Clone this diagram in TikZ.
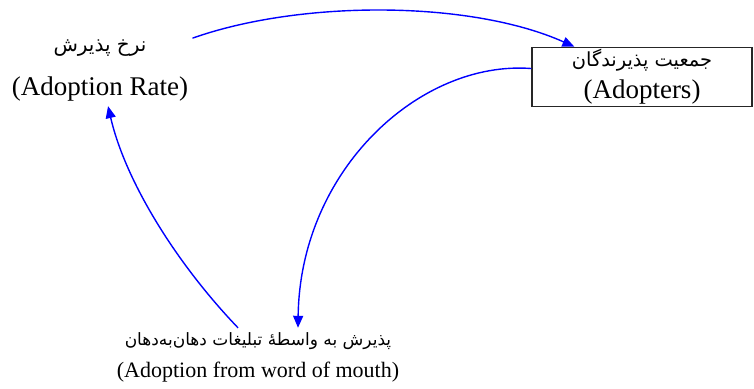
\documentclass[tikz,border=0pt]{standalone}
\usepackage{fontspec}
\setmainfont{Liberation Serif}
\newfontfamily\farsi[Script=Arabic]{DejaVu Sans}
\TeXXeTstate=1
\usepackage{tikz}
\usetikzlibrary{arrows.meta, calc}
\tikzset{
  varlbl/.style={align=center, inner sep=2pt, font=\fontsize{13.5}{15}\selectfont},
  stockbox/.style={rectangle, draw=black!85, line width=0.7pt, minimum width=110pt,
                   minimum height=28.5pt, align=center, inner sep=1pt,
                   font=\fontsize{13.5}{15}\selectfont},
  link/.style={-{Triangle[length=6pt,width=5pt]}, draw=blue, line width=0.7pt}
}
\newcommand{\fatext}[2][10]{{\farsi\fontsize{#1}{#1}\selectfont\beginR #2\endR}}

\begin{document}
\begin{tikzpicture}[x=0.5pt, y=-0.5pt]
\useasboundingbox (0,0) rectangle (754,389);
\node[varlbl] (rate) at (100,71) {\fatext{نرخ پذیرش}\\[7pt](Adoption Rate)};
\node[stockbox] (adopters) at (642,77) {\fatext[9.7]{جمعیت پذیرندگان}\\[1pt](Adopters)};
\node[varlbl, font=\fontsize{11}{12}\selectfont] (wom) at (258,357)
  {\fatext[8.5]{پذیرش به واسطهٔ تبلیغات دهان‌به‌دهان}\\[4pt](Adoption from word of mouth)};
% flows of the loop
\draw[link] (rate) .. controls (300,0) and (470,0) .. (adopters);
\draw[link] (adopters) .. controls (420,60) and (300,170) .. ($(wom.north)+(40,0)$);
\draw[link] ($(wom.north)+(-20,0)$) .. controls (175,262) and (125,180) .. (rate);
\end{tikzpicture}
\end{document}
